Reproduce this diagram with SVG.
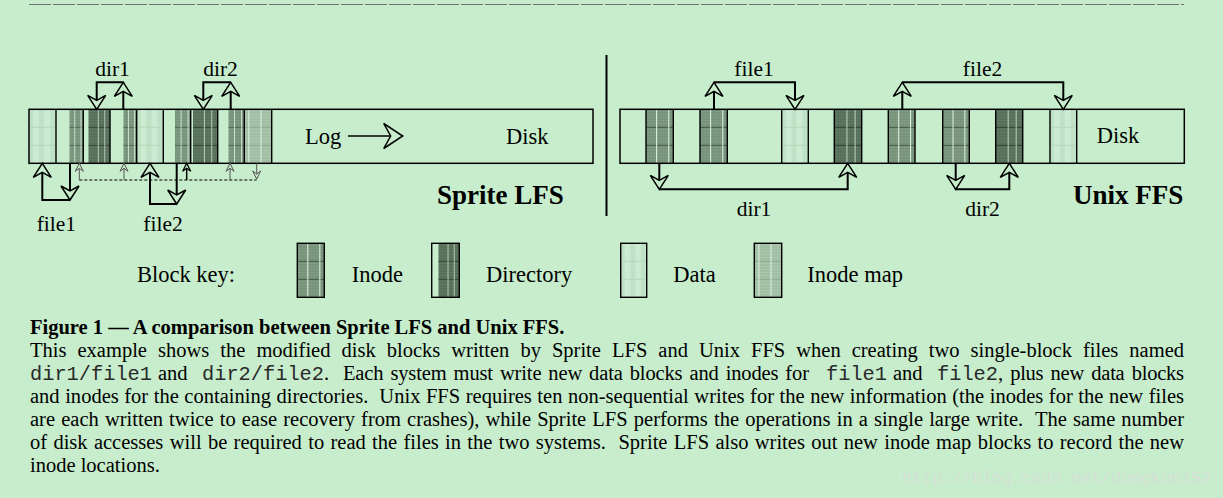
<svg xmlns="http://www.w3.org/2000/svg" width="1223" height="498" viewBox="0 0 1223 498">
<style>
.t{font-family:"Liberation Serif","Times New Roman",serif;fill:#000}
.lbl{font-size:22.5px}
.fl{font-size:21.5px}
.big{font-size:27px;font-weight:bold}
.cap{font-size:20.5px}
.capb{font-size:20.5px;font-weight:bold}
.mono{font-family:"Liberation Mono","Courier New",monospace;font-size:20.3px;fill:#2a2a2a}
.ln{stroke:#000;stroke-width:2;fill:none;marker-end:url(#ah)}
.thin{stroke:#555;stroke-width:1;fill:none;marker-end:url(#ahs)}
.thinb{stroke:#000;stroke-width:1.5;fill:none;marker-end:url(#ahb)}
.bar{fill:none;stroke:#000;stroke-width:1.5}
.div{stroke:#000;stroke-width:1.4;fill:none}
.box{fill:none;stroke:#000;stroke-width:1.4}
</style>
<defs>
<pattern id="tex" width="3" height="3" patternUnits="userSpaceOnUse"><rect width="3" height="1.5" fill="#000" opacity="0.07"/><rect x="1.5" y="1.5" width="1.5" height="1.5" fill="#fff" opacity="0.08"/></pattern>
<symbol id="s-inode" viewBox="0 0 27 54" preserveAspectRatio="none">
<rect width="27" height="54" fill="#7c9a80"/><rect width="27" height="54" fill="url(#tex)"/>
<path d="M0,18H27M0,36H27" stroke="#3d5641" stroke-width="1"/>
<path d="M10.5,0V54M22.5,0V54" stroke="#e4f3e6" stroke-width="1"/>
</symbol>
<symbol id="s-dir" viewBox="0 0 27 54" preserveAspectRatio="none">
<rect width="27" height="54" fill="#5a745d"/><rect width="27" height="54" fill="url(#tex)"/>
<path d="M0,18H27M0,36H27" stroke="#2c3f2f" stroke-width="1"/>
<path d="M12.5,0V54M20.5,0V54" stroke="#b9d3bc" stroke-width="1"/>
</symbol>
<symbol id="s-data" viewBox="0 0 27 54" preserveAspectRatio="none">
<rect width="27" height="54" fill="#bfe1c5"/>
<rect x="4" width="6" height="54" fill="#cdebd2"/><rect x="15" width="6" height="54" fill="#cdebd2"/>
<path d="M0,18H27M0,36H27" stroke="#b5d8bb" stroke-width="1"/>
</symbol>
<symbol id="s-imap" viewBox="0 0 27 54" preserveAspectRatio="none">
<rect width="27" height="54" fill="#a8c7ac"/><rect width="27" height="54" fill="url(#tex)"/>
<path d="M0,18H27M0,36H27" stroke="#86a68a" stroke-width="1"/>
<path d="M4.5,0V54M16.5,0V54" stroke="#e2f2e4" stroke-width="1"/>
</symbol>
<marker id="ah" markerUnits="userSpaceOnUse" viewBox="-3 -12 20 24" markerWidth="20" markerHeight="24" refX="14" refY="0" orient="auto">
<path d="M0,-9 L14,0 L0,9 L5,0 Z" fill="#c7edcc" stroke="#000" stroke-width="1.5"/>
</marker>
<marker id="ahl" markerUnits="userSpaceOnUse" viewBox="-3 -15 25 30" markerWidth="25" markerHeight="30" refX="19" refY="0" orient="auto">
<path d="M0,-12.5 L19,0 L0,12.5 L7,0 Z" fill="#c7edcc" stroke="#000" stroke-width="1.5"/>
</marker>
<marker id="ahs" markerUnits="userSpaceOnUse" viewBox="-2 -6 12 12" markerWidth="12" markerHeight="12" refX="8" refY="0" orient="auto">
<path d="M0,-4 L8,0 L0,4 L3,0 Z" fill="#c7edcc" stroke="#555" stroke-width="1"/>
</marker>
<marker id="ahb" markerUnits="userSpaceOnUse" viewBox="-2 -6 12 12" markerWidth="12" markerHeight="12" refX="8" refY="0" orient="auto">
<path d="M0,-4 L8,0 L0,4 L3,0 Z" fill="#c7edcc" stroke="#000" stroke-width="1.3"/>
</marker>
</defs>
<rect width="1223" height="498" fill="#c7edcc"/>
<line x1="29" y1="4.5" x2="1184" y2="4.5" stroke="#707070" stroke-width="1" stroke-dasharray="22 2"/>

<g id="sprite-lfs-bar">
<use href="#s-data" x="29" y="109.3" width="27" height="54"/>
<use href="#s-inode" x="69.3" y="109.3" width="14" height="54"/>
<use href="#s-dir" x="88.3" y="109.3" width="21.7" height="54"/>
<use href="#s-inode" x="123.3" y="109.3" width="13.4" height="54"/>
<use href="#s-data" x="136.7" y="109.3" width="26.6" height="54"/>
<use href="#s-inode" x="175" y="109.3" width="15.7" height="54"/>
<use href="#s-dir" x="193" y="109.3" width="24.7" height="54"/>
<use href="#s-inode" x="228.3" y="109.3" width="16" height="54"/>
<use href="#s-imap" x="244.3" y="109.3" width="27.4" height="54"/>
<rect class="bar" x="29" y="109.3" width="564" height="54"/>
<path class="div" d="M56,109.3V163.3M83.3,109.3V163.3M110,109.3V163.3M136.7,109.3V163.3M163.3,109.3V163.3M190.7,109.3V163.3M217.7,109.3V163.3M244.3,109.3V163.3M271.7,109.3V163.3"/>
<text class="t lbl" x="305" y="143.5">Log</text>
<text class="t lbl" x="506" y="143.5">Disk</text>
</g>
<g id="sprite-lfs-title"><text class="t big" x="437" y="204">Sprite LFS</text></g>

<g id="separator"><line x1="606.5" y1="55" x2="606.5" y2="216" stroke="#000" stroke-width="2"/></g>

<g id="unix-ffs-bar">
<use href="#s-inode" x="646" y="109.3" width="27.3" height="54"/>
<use href="#s-inode" x="700" y="109.3" width="27.3" height="54"/>
<use href="#s-data" x="781.7" y="109.3" width="26.6" height="54"/>
<use href="#s-dir" x="834.3" y="109.3" width="27.4" height="54"/>
<use href="#s-inode" x="888.3" y="109.3" width="26.7" height="54"/>
<use href="#s-inode" x="942.7" y="109.3" width="26.6" height="54"/>
<use href="#s-dir" x="995.7" y="109.3" width="27" height="54"/>
<use href="#s-data" x="1050" y="109.3" width="26.7" height="54"/>
<rect class="bar" x="620" y="109.3" width="564.3" height="54"/>
<path class="div" d="M646,109.3V163.3M673.3,109.3V163.3M700,109.3V163.3M727.3,109.3V163.3M781.7,109.3V163.3M808.3,109.3V163.3M834.3,109.3V163.3M861.7,109.3V163.3M888.3,109.3V163.3M915,109.3V163.3M942.7,109.3V163.3M969.3,109.3V163.3M995.7,109.3V163.3M1022.7,109.3V163.3M1050,109.3V163.3M1076.7,109.3V163.3"/>
<text class="t lbl" x="1096.7" y="143">Disk</text>
</g>
<g id="unix-ffs-title"><text class="t big" x="1073" y="204">Unix FFS</text></g>

<g id="connectors">
<path class="ln" d="M123.3,109.3V82.3"/>
<path class="ln" d="M123.3,82.3H96.7V109.3"/>
<path class="ln" d="M230.7,109.3V82.3"/>
<path class="ln" d="M230.7,82.3H203.3V109.3"/>
<path class="ln" d="M70,163.3V200"/>
<path class="ln" d="M70,200H42.3V163.3"/>
<path class="ln" d="M176.7,163.3V204"/>
<path class="ln" d="M176.7,204H150V163.3"/>
<path d="M79.3,180H256.7" stroke="#000" stroke-width="1" stroke-dasharray="3 2" fill="none"/>
<path class="thin" d="M79.3,180V163.3"/>
<path class="thin" d="M124,180V163.3"/>
<path class="thinb" d="M186.7,180V163.3"/>
<path class="thin" d="M230,180V163.3"/>
<path class="thin" d="M256.7,163.3V179"/>
<path d="M348,136H402.7" stroke="#000" stroke-width="1.4" fill="none" marker-end="url(#ahl)"/>
<path class="ln" d="M714,109.3V82.3"/>
<path class="ln" d="M714,82.3H795V109.3"/>
<path class="ln" d="M902.3,109.3V82.3"/>
<path class="ln" d="M902.3,82.3H1063.3V109.3"/>
<path class="ln" d="M659.3,163.3V189.3"/>
<path class="ln" d="M659.3,189.3H847.7V163.3"/>
<path class="ln" d="M955.7,163.3V189.3"/>
<path class="ln" d="M955.7,189.3H1009.3V163.3"/>
</g>

<g id="labels">
<text class="t fl" x="112.5" y="76" text-anchor="middle">dir1</text>
<text class="t fl" x="220.5" y="76" text-anchor="middle">dir2</text>
<text class="t fl" x="36.7" y="231">file1</text>
<text class="t fl" x="143.3" y="231">file2</text>
<text class="t fl" x="754" y="76" text-anchor="middle">file1</text>
<text class="t fl" x="982.5" y="76" text-anchor="middle">file2</text>
<text class="t fl" x="754" y="216" text-anchor="middle">dir1</text>
<text class="t fl" x="982.5" y="216" text-anchor="middle">dir2</text>
</g>

<g id="block-key">
<text class="t lbl" x="137" y="282">Block key:</text>
<g id="key-inode"><use href="#s-inode" x="297.3" y="243.3" width="27" height="54"/><rect class="box" x="297.3" y="243.3" width="27" height="54"/><text class="t lbl" x="351.7" y="282">Inode</text></g>
<g id="key-directory"><use href="#s-dir" x="438.3" y="243.3" width="21" height="54"/><rect class="box" x="431.7" y="243.3" width="27.6" height="54"/><text class="t lbl" x="486" y="282">Directory</text></g>
<g id="key-data"><use href="#s-data" x="620.7" y="243.3" width="26" height="54"/><rect class="box" x="620.7" y="243.3" width="26" height="54"/><text class="t lbl" x="673.3" y="282">Data</text></g>
<g id="key-imap"><use href="#s-imap" x="754.3" y="243.3" width="27.4" height="54"/><rect class="box" x="754.3" y="243.3" width="27.4" height="54"/><text class="t lbl" x="807.3" y="282">Inode map</text></g>
</g>

<g id="caption">
<text class="t capb" x="30" y="334">Figure 1 — A comparison between Sprite LFS and Unix FFS.</text>
<text class="t cap" x="30" y="357" word-spacing="5.9" textLength="1154" lengthAdjust="spacing">This example shows the modified disk blocks written by Sprite LFS and Unix FFS when creating two single-block files named</text>
<text class="mono" x="30" y="380" textLength="122" lengthAdjust="spacingAndGlyphs">dir1/file1</text>
<text class="t cap" x="158" y="380">and</text>
<text class="mono" x="202" y="380" textLength="122" lengthAdjust="spacingAndGlyphs">dir2/file2</text>
<text class="t cap" x="324" y="380" word-spacing="2" textLength="485" lengthAdjust="spacing" xml:space="preserve">.  Each system must write new data blocks and inodes for</text>
<text class="mono" x="826" y="380" textLength="61" lengthAdjust="spacingAndGlyphs">file1</text>
<text class="t cap" x="893" y="380">and</text>
<text class="mono" x="937" y="380" textLength="61" lengthAdjust="spacingAndGlyphs">file2</text>
<text class="t cap" x="998" y="380" word-spacing="2.4" textLength="186" lengthAdjust="spacing">, plus new data blocks</text>
<text class="t cap" x="30" y="403" word-spacing="0.4" textLength="1154" lengthAdjust="spacing" xml:space="preserve">and inodes for the containing directories.  Unix FFS requires ten non-sequential writes for the new information (the inodes for the new files</text>
<text class="t cap" x="30" y="426" word-spacing="1" textLength="1154" lengthAdjust="spacing" xml:space="preserve">are each written twice to ease recovery from crashes), while Sprite LFS performs the operations in a single large write.  The same number</text>
<text class="t cap" x="30" y="449" word-spacing="1.2" textLength="1154" lengthAdjust="spacing" xml:space="preserve">of disk accesses will be required to read the files in the two systems.  Sprite LFS also writes out new inode map blocks to record the new</text>
<text class="t cap" x="30" y="472">inode locations.</text>
</g>

<g id="watermark"><text x="902" y="483" font-family="'Liberation Mono','Courier New',monospace" font-size="17" fill="#d5e0d7" textLength="309" lengthAdjust="spacingAndGlyphs">http://blog.csdn.net/dongkun152</text></g>
</svg>
